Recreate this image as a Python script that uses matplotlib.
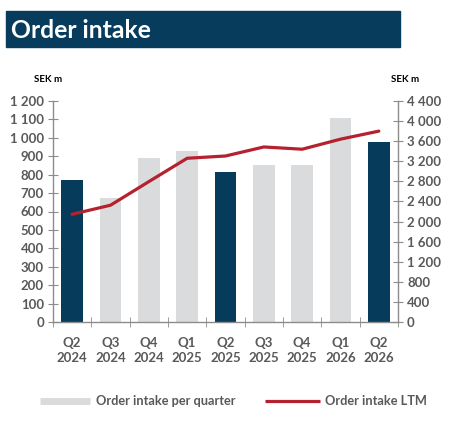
import matplotlib
matplotlib.use("Agg")
import matplotlib.pyplot as plt
from matplotlib.lines import Line2D
from matplotlib.patches import Rectangle
import numpy as np

plt.rcParams['font.family'] = ['Lato', 'DejaVu Sans']

categories = ["Q2\n2024", "Q3\n2024", "Q4\n2024", "Q1\n2025", "Q2\n2025",
              "Q3\n2025", "Q4\n2025", "Q1\n2026", "Q2\n2026"]
quarter_values = [770, 675, 890, 930, 815, 855, 855, 1105, 980]
ltm_values = [2145, 2325, 2795, 3260, 3305, 3485, 3440, 3640, 3800]
highlight = [True, False, False, False, True, False, False, False, True]
left_ticks = list(range(0, 1201, 100))
right_ticks = list(range(0, 4401, 400))

DARK = "#073b5c"
LIGHT = "#dadbdc"
RED = "#b5222f"
GRAY = "#595959"
SPINE = "#8c8c8c"

def fmt(v):
    return f"{v:,}".replace(",", " ")

fig = plt.figure(figsize=(4.52, 4.24), dpi=100)
W, H = 452, 424

# Title box
fig.add_artist(Rectangle((6 / W, 1 - 47 / H), (400 - 6) / W, 36 / H,
                         transform=fig.transFigure, color="#083c5d", zorder=0))
fig.text(11 / W, 1 - 30 / H, "Order intake", color="white", fontsize=17.8,
         fontweight="bold", va="center", ha="left")

ax = fig.add_axes([53 / W, 1 - 322 / H, (398 - 53) / W, (322 - 101) / H])
x = np.arange(len(categories))
colors = [DARK if h else LIGHT for h in highlight]
ax.bar(x, quarter_values, width=0.57, color=colors, zorder=2)
ax.set_xlim(-0.5, len(categories) - 0.5)
ax.set_ylim(0, 1200)
ax.set_yticks(left_ticks)
ax.set_yticklabels([fmt(v) for v in left_ticks])

ax2 = ax.twinx()
ax2.plot(x, ltm_values, color=RED, lw=2.3, zorder=3, solid_capstyle="round")
ax2.set_ylim(0, 4400)
ax2.set_yticks(right_ticks)
ax2.set_yticklabels([fmt(v) for v in right_ticks])

for a in (ax, ax2):
    a.spines["top"].set_visible(False)
    for s in ("left", "right", "bottom"):
        a.spines[s].set_color(SPINE)
        a.spines[s].set_linewidth(1.0)
ax.spines["right"].set_visible(False)
ax2.spines["left"].set_visible(False)
ax2.spines["bottom"].set_visible(False)

ax.set_xticks(x)
ax.set_xticklabels(categories)
ax.set_xticks(np.arange(-0.5, len(categories), 1.0), minor=True)
ax.tick_params(axis="x", which="major", length=0, pad=11, labelsize=9.5,
               labelcolor=GRAY)
ax.tick_params(axis="x", which="minor", direction="inout", length=7,
               color=SPINE)
ax.tick_params(axis="y", direction="inout", length=7, color=SPINE,
               labelsize=9.5, labelcolor=GRAY, pad=3)
ax2.tick_params(axis="y", direction="inout", length=7, color=SPINE,
                labelsize=9.5, labelcolor=GRAY, pad=3)
for lab in ax.get_yticklabels() + ax2.get_yticklabels() + ax.get_xticklabels():
    lab.set_fontweight("bold")
for lab in ax.get_xticklabels():
    lab.set_linespacing(1.25)

fig.text(48 / W, 1 - 80 / H, "SEK m", fontsize=7, fontweight="bold",
         ha="center", va="center", color="black")
fig.text(405 / W, 1 - 80 / H, "SEK m", fontsize=7, fontweight="bold",
         ha="center", va="center", color="black")

# Legend
ly = 1 - 401 / H
fig.add_artist(Line2D([40 / W, 90 / W], [ly, ly], color=LIGHT, lw=5,
                      transform=fig.transFigure, solid_capstyle="butt"))
fig.text(96 / W, ly, "Order intake per quarter", fontsize=9.2,
         color=GRAY, va="center", ha="left", fontweight="bold")
fig.add_artist(Line2D([265 / W, 320 / W], [ly, ly], color=RED, lw=2.3,
                      transform=fig.transFigure, solid_capstyle="butt"))
fig.text(325 / W, ly, "Order intake LTM", fontsize=9.2,
         color=GRAY, va="center", ha="left", fontweight="bold")

fig.savefig("out.png", dpi=100)
